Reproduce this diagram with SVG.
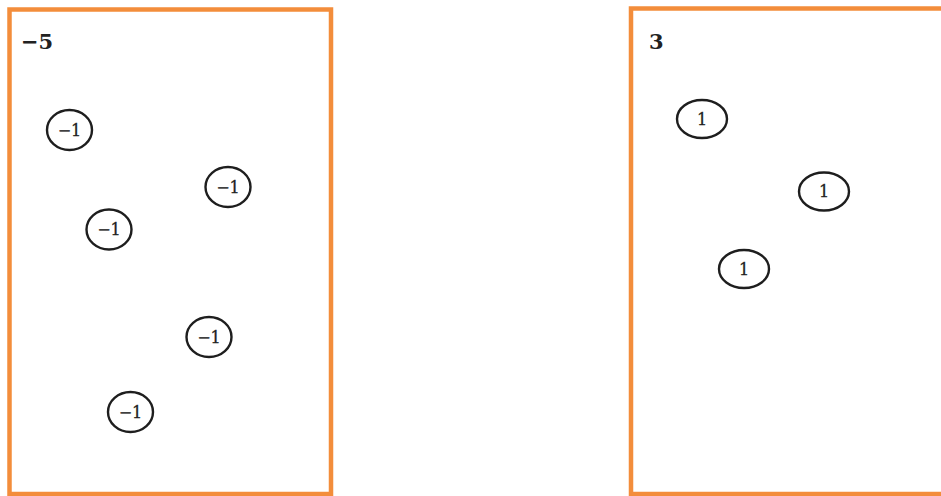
<svg xmlns="http://www.w3.org/2000/svg" width="941" height="496" viewBox="0 0 941 496">
<style>
.box{fill:none;stroke:#F38D3B;stroke-width:4.5}
.tok{fill:#fff;stroke:#1e1e1e;stroke-width:2.4}
.lbl{font-family:"DejaVu Serif","Liberation Serif",serif;font-weight:bold;font-size:21px;fill:#222}
.t{font-family:"DejaVu Serif","Liberation Serif",serif;font-size:16px;fill:#222;stroke:#222;stroke-width:0.3;text-anchor:middle;dominant-baseline:central}
</style>
<rect width="941" height="496" fill="#fff"/>
<g id="box-left">
<rect class="box" x="9.5" y="9.5" width="321.5" height="484.5"/>
<text class="lbl" x="21" y="49">−5</text>
</g>
<g id="box-right">
<rect class="box" x="631" y="8.5" width="320" height="485.5"/>
<text class="lbl" x="649" y="49">3</text>
</g>
<g id="l1"><ellipse class="tok" cx="69.5" cy="130" rx="22.5" ry="20"/><text class="t" x="69.5" y="130">−1</text></g>
<g id="l2"><ellipse class="tok" cx="228" cy="187" rx="22.5" ry="20"/><text class="t" x="228" y="187">−1</text></g>
<g id="l3"><ellipse class="tok" cx="109" cy="229.5" rx="22.5" ry="20"/><text class="t" x="109" y="229.5">−1</text></g>
<g id="l4"><ellipse class="tok" cx="209" cy="337" rx="22.5" ry="20"/><text class="t" x="209" y="337">−1</text></g>
<g id="l5"><ellipse class="tok" cx="130.5" cy="412" rx="22.5" ry="20"/><text class="t" x="130.5" y="412">−1</text></g>
<g id="r1"><ellipse class="tok" cx="702" cy="119" rx="25" ry="19"/><text class="t" x="702" y="119">1</text></g>
<g id="r2"><ellipse class="tok" cx="824" cy="191.5" rx="25" ry="19"/><text class="t" x="824" y="191.5">1</text></g>
<g id="r3"><ellipse class="tok" cx="744" cy="269" rx="25" ry="19"/><text class="t" x="744" y="269">1</text></g>
<g id="connectors"/>
</svg>
